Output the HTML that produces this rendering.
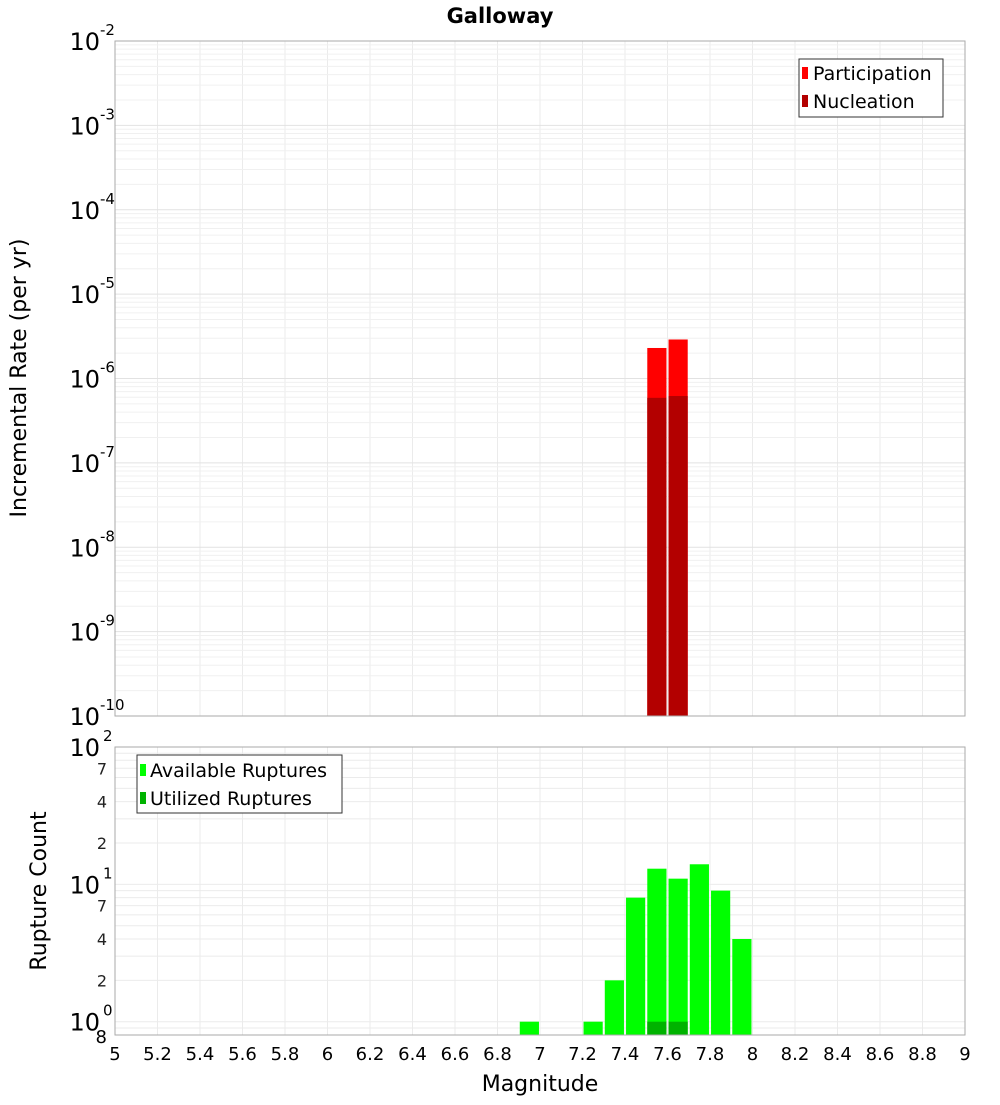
<!DOCTYPE html>
<html><head><meta charset="utf-8"><style>
body{margin:0;background:#fff;font-family:"Liberation Sans","DejaVu Sans",sans-serif}
svg text{font-family:"DejaVu Sans","Liberation Sans",sans-serif}
</style></head><body>
<svg id="c" width="1000" height="1100" xmlns="http://www.w3.org/2000/svg">
<rect width="1000" height="1100" fill="#fff"/>
<text x="500" y="23" text-anchor="middle" font-size="21" font-weight="bold">Galloway</text>
<g id="gtop"></g>
<g id="gbot"></g>
<text transform="translate(26,378) rotate(-90)" text-anchor="middle" font-size="22">Incremental Rate (per yr)</text>
<text transform="translate(46,891) rotate(-90)" text-anchor="middle" font-size="22">Rupture Count</text>
<text x="540" y="1091" text-anchor="middle" font-size="22">Magnitude</text>
<g>
<rect x="799" y="59" width="144" height="58" fill="#fff" stroke="#333"/>
<rect x="802" y="67" width="6" height="12" fill="#ff0000"/>
<text x="813" y="80" font-size="19">Participation</text>
<rect x="802" y="95" width="6" height="12" fill="#b30000"/>
<text x="813" y="108" font-size="19">Nucleation</text>
</g>
<g>
<rect x="137" y="755" width="205" height="58" fill="#fff" stroke="#333"/>
<rect x="140" y="764" width="6" height="12" fill="#00ff00"/>
<text x="150" y="777" font-size="19">Available Ruptures</text>
<rect x="140" y="792" width="6" height="12" fill="#00b300"/>
<text x="150" y="805" font-size="19">Utilized Ruptures</text>
</g>
</svg>
<script>
const rateBins=[7.55,7.65];
const participation=[2.3e-6,2.9e-6];
const nucleation=[5.9e-7,6.2e-7];
const countBins=[6.95,7.25,7.35,7.45,7.55,7.65,7.75,7.85,7.95];
const available=[1,1,2,8,13,11,14,9,4];
const utilBins=[7.55,7.65];
const utilized=[1,1];
const xTicks=[5,5.2,5.4,5.6,5.8,6,6.2,6.4,6.6,6.8,7,7.2,7.4,7.6,7.8,8,8.2,8.4,8.6,8.8,9];

const NS='http://www.w3.org/2000/svg';
const L=115,R=965;
const X=v=>L+(v-5)/4*(R-L);
const T0=41,T1=716,Y1=v=>T0+(-2-Math.log10(v))/8*(T1-T0);
const B0=747,B1=1035,lmin=Math.log10(0.8),lmax=2;
const Y2=v=>B1-(Math.log10(v)-lmin)/(lmax-lmin)*(B1-B0);
function el(p,t,a){const e=document.createElementNS(NS,t);for(const k in a)e.setAttribute(k,a[k]);p.appendChild(e);return e;}
const gTop=document.getElementById('gtop'),gBot=document.getElementById('gbot');
el(gTop,'rect',{x:L,y:T0,width:R-L,height:T1-T0,fill:'#fff'});
el(gBot,'rect',{x:L,y:B0,width:R-L,height:B1-B0,fill:'#fff'});
for(const v of xTicks){for(const [g,a,b] of [[gTop,T0,T1],[gBot,B0,B1]]){const l=el(g,'line',{x1:X(v),x2:X(v),y1:a,y2:b,stroke:'#ebebeb'});}}
for(let e=-10;e<-2;e++)for(let m=1;m<10;m++){const y=Y1(m*Math.pow(10,e));const l=el(gTop,'line',{x1:L,x2:R,y1:y,y2:y,stroke:m==1?'#e2e2e2':'#f0f0f0'});}
for(let e=-1;e<2;e++)for(let m=1;m<10;m++){const v=m*Math.pow(10,e);if(v<0.8)continue;const y=Y2(v);const l=el(gBot,'line',{x1:L,x2:R,y1:y,y2:y,stroke:'#ebebeb'});}
const bw=21.25*0.95;
function bar(g,xv,yv,Y,base,fill,name){const x=X(xv)-bw/2+0.5,y=Y(yv);const r=el(g,'rect',{x:x,y:y,width:bw-1,height:base-y,fill:fill});}
rateBins.forEach((b,i)=>bar(gTop,b,participation[i],Y1,T1,'#ff0000','participation-bar'));
rateBins.forEach((b,i)=>bar(gTop,b,nucleation[i],Y1,T1,'#b30000','nucleation-bar'));
countBins.forEach((b,i)=>bar(gBot,b,available[i],Y2,B1,'#00ff00','available-bar'));
utilBins.forEach((b,i)=>bar(gBot,b,utilized[i],Y2,B1,'#00b300','utilized-bar'));
el(gTop,'rect',{x:L,y:T0,width:R-L,height:T1-T0,fill:'none',stroke:'#aaa'});
el(gBot,'rect',{x:L,y:B0,width:R-L,height:B1-B0,fill:'none',stroke:'#aaa'});
for(let e=-10;e<=-2;e++){const y=Y1(Math.pow(10,e));const t=el(gTop,'text',{x:100,y:y+9,'text-anchor':'end','font-size':24});t.textContent='10';const s=el(gTop,'text',{x:100,y:y-6,'font-size':15});s.textContent=String(e);}
[[1,'0'],[10,'1'],[100,'2']].forEach(([v,e])=>{const y=Y2(v);const t=el(gBot,'text',{x:100,y:y+9,'text-anchor':'end','font-size':24});t.textContent='10';const s=el(gBot,'text',{x:103,y:y-6,'font-size':15});s.textContent=e;});
[2,4,7,20,40,70].forEach(v=>{const t=el(gBot,'text',{x:107,y:Y2(v)+6,'text-anchor':'end','font-size':16,fill:'#222'});t.textContent=String(v).charAt(0);});
{const t=el(gBot,'text',{x:107,y:Y2(0.8)+8,'text-anchor':'end','font-size':18});t.textContent='8';}
xTicks.forEach(v=>{const t=el(gBot,'text',{x:X(v),y:1060,'text-anchor':'middle','font-size':18});t.textContent=String(v);});
</script>
</body></html>
